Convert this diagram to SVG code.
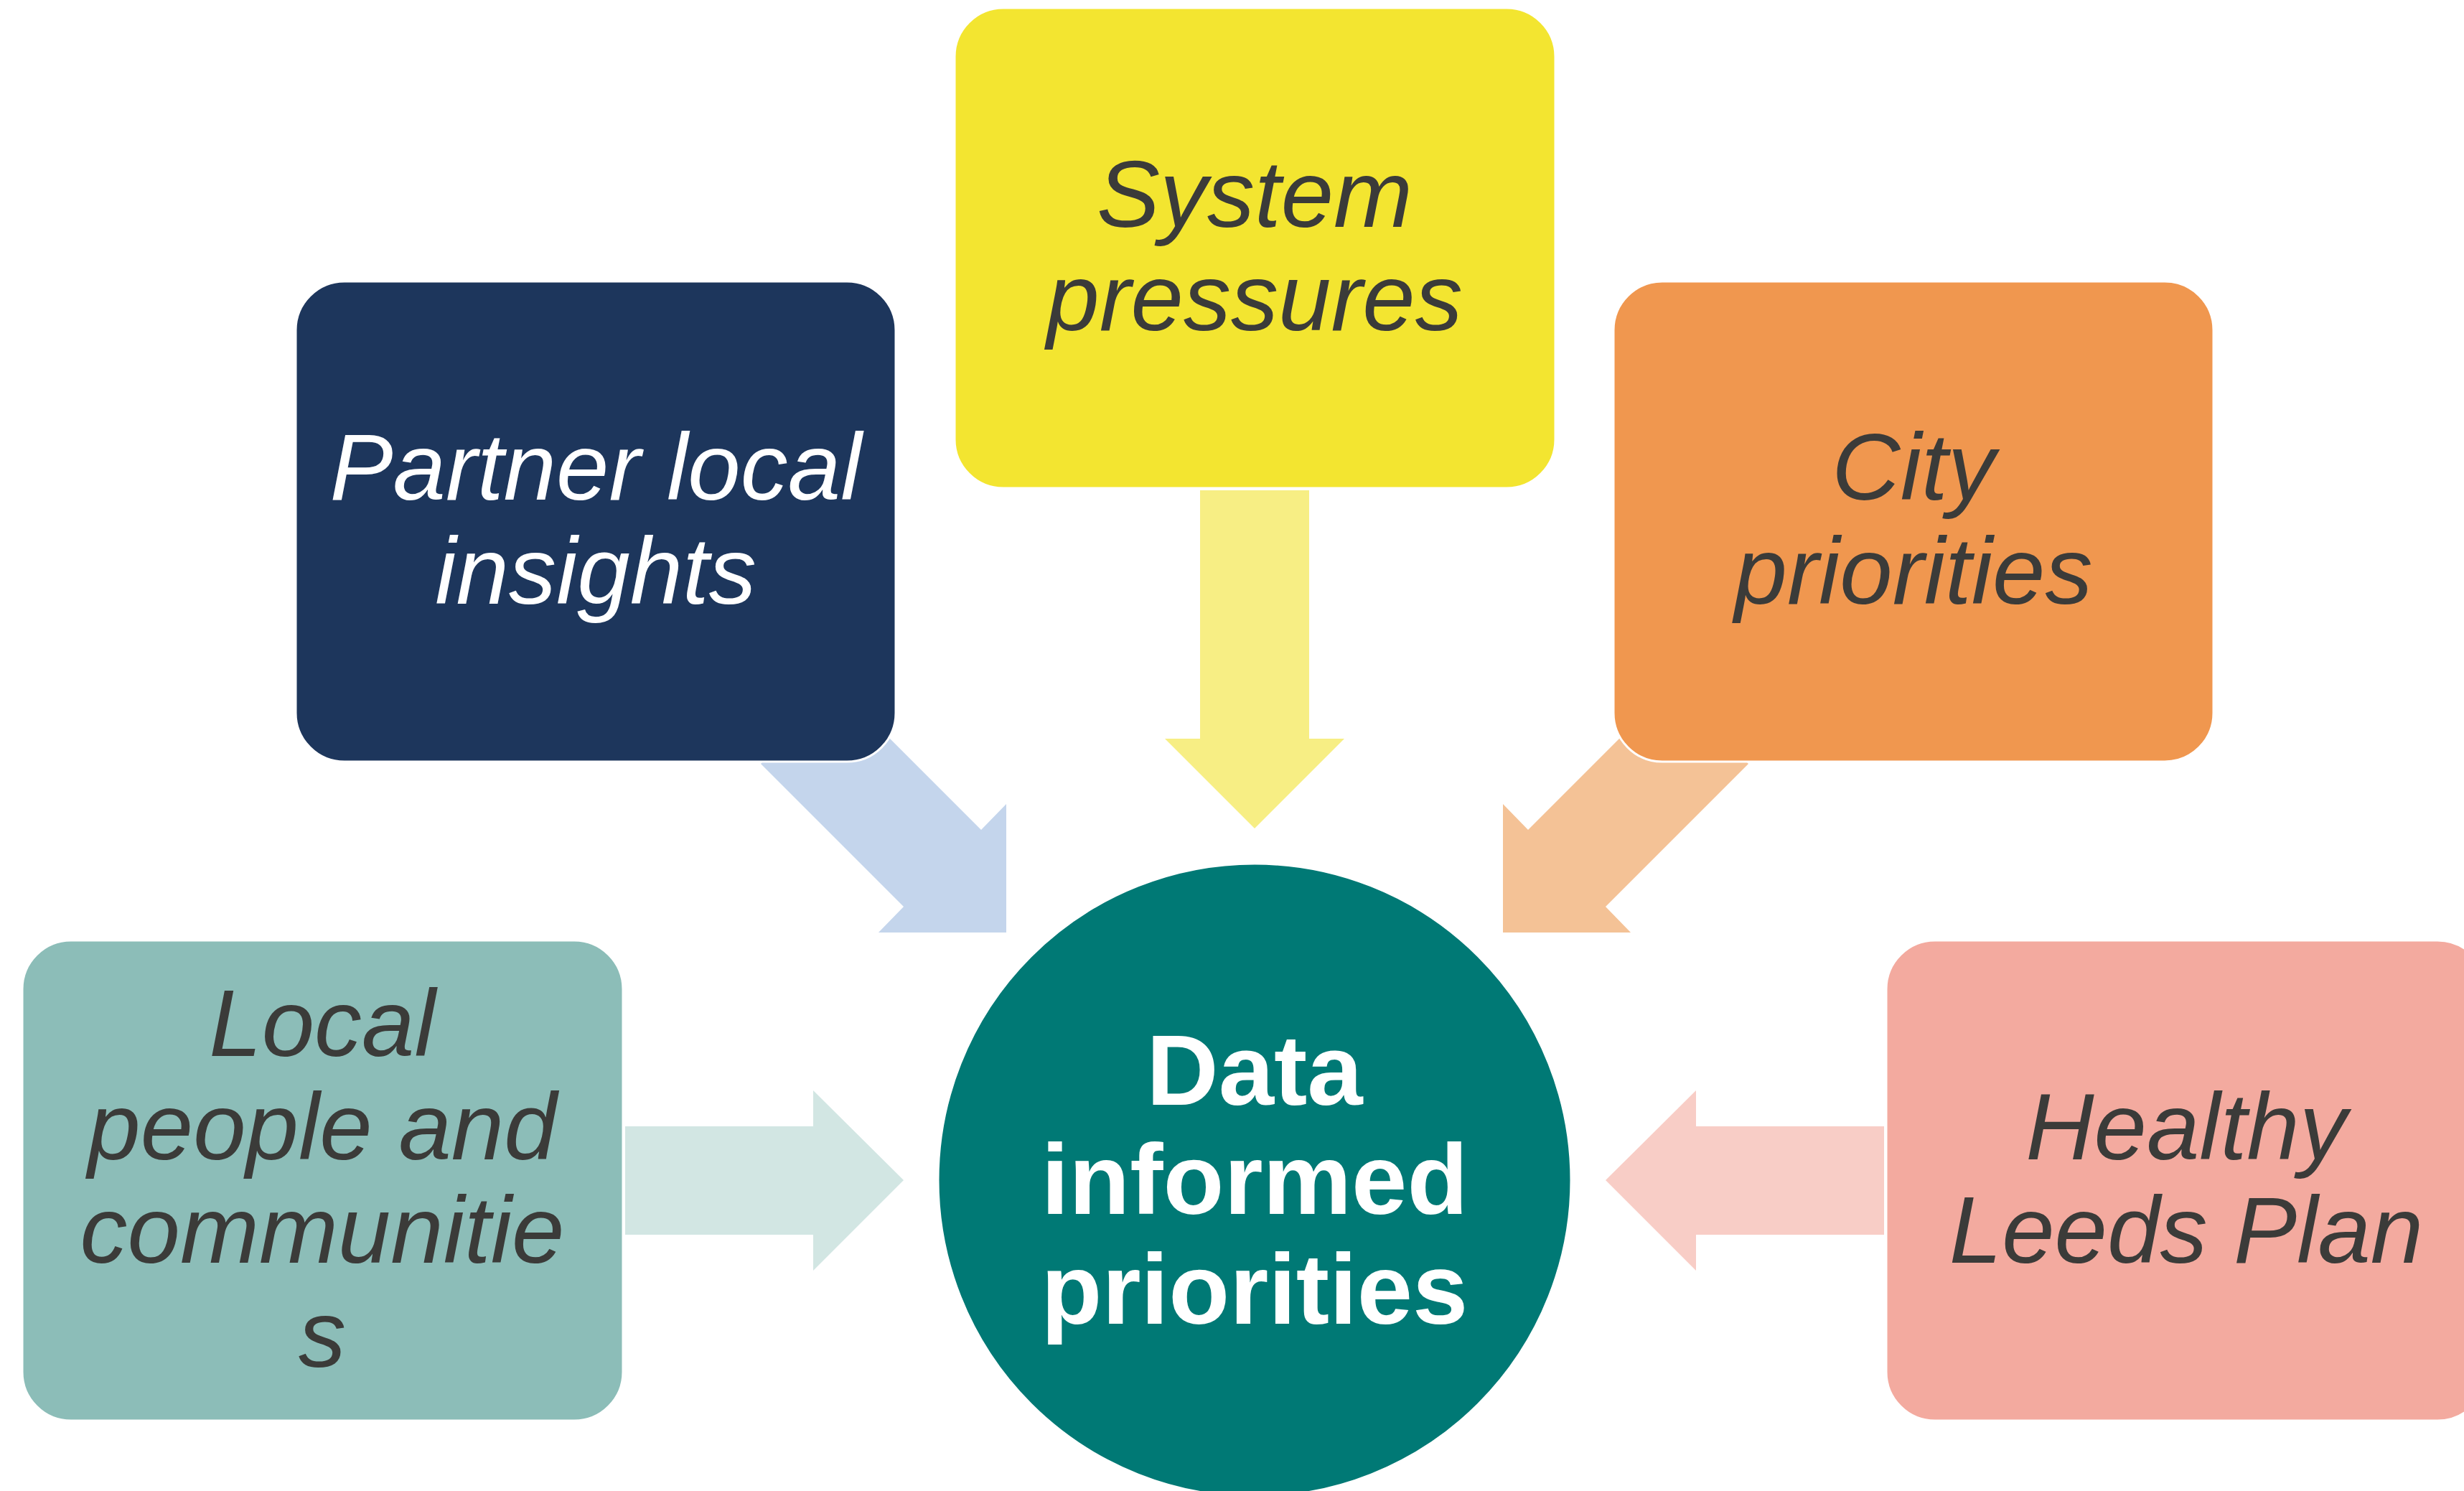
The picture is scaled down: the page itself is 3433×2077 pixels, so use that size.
<svg xmlns="http://www.w3.org/2000/svg" width="3433" height="2077" viewBox="0 0 3433 2077">
<style>
.box{stroke:#ffffff;stroke-width:3}
.lbl{font-family:"Liberation Sans",Arial,sans-serif;font-style:italic;font-size:132px;text-anchor:middle;fill:#3b3b39}
.lbl.w{fill:#ffffff}
.ctr{font-family:"Liberation Sans",Arial,sans-serif;font-weight:bold;font-size:139px;text-anchor:middle;fill:#ffffff}
</style>
<rect width="3433" height="2077" fill="#ffffff"/>
<g id="connectors">
<polygon fill="#c4d5ec" points="1060,1064 1259,1263 1224,1299 1402,1299 1402,1120 1367,1156 1167,956"/>
<polygon fill="#f7ee84" points="1672,683 1824,683 1824,1029 1873,1029 1748,1154 1623,1029 1672,1029"/>
<polygon fill="#f4c296" points="2436,1064 2237,1263 2272,1299 2094,1299 2094,1120 2129,1156 2329,956"/>
<polygon fill="#d2e6e3" points="871,1569 1133,1569 1133,1519 1259,1644 1133,1770 1133,1720 871,1720"/>
<polygon fill="#f8cdc6" points="2625,1569 2363,1569 2363,1519 2237,1644 2363,1770 2363,1720 2625,1720"/>
</g>
<g id="node-partner">
<rect class="box" x="412" y="392" width="836" height="669" rx="68" fill="#1d365c"/>
<text class="lbl w" x="830" y="696">Partner local</text>
<text class="lbl w" x="830" y="841">insights</text>
</g>
<g id="node-system">
<rect class="box" x="1330" y="11" width="837" height="669" rx="68" fill="#f3e530"/>
<text class="lbl" x="1748" y="316">System</text>
<text class="lbl" x="1748" y="460">pressures</text>
</g>
<g id="node-city">
<rect class="box" x="2248" y="392" width="836" height="669" rx="68" fill="#f0974f"/>
<text class="lbl" x="2666" y="696">City</text>
<text class="lbl" x="2666" y="841">priorities</text>
</g>
<g id="node-local">
<rect class="box" x="31" y="1310" width="837" height="669" rx="68" fill="#8cbdb8"/>
<text class="lbl" x="449" y="1471">Local</text>
<text class="lbl" x="449" y="1615">people and</text>
<text class="lbl" x="449" y="1759">communitie</text>
<text class="lbl" x="449" y="1904">s</text>
</g>
<g id="node-healthy">
<rect class="box" x="2628" y="1310" width="836" height="669" rx="68" fill="#f3aa9f"/>
<text class="lbl" x="3046" y="1615">Healthy</text>
<text class="lbl" x="3046" y="1759">Leeds Plan</text>
</g>
<g id="node-data">
<circle cx="1748" cy="1644" r="441" fill="#007975" stroke="#ffffff" stroke-width="3"/>
<text class="ctr" x="1748" y="1539">Data</text>
<text class="ctr" x="1748" y="1691">informed</text>
<text class="ctr" x="1748" y="1844">priorities</text>
</g>
</svg>
